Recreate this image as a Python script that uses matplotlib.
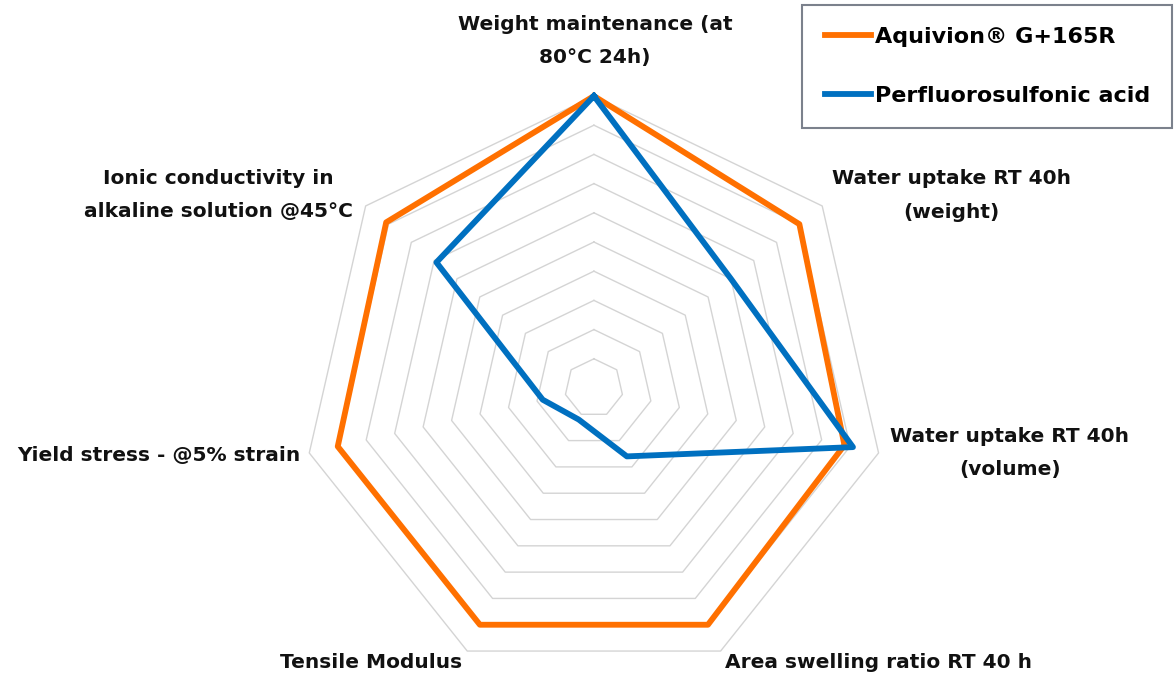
import numpy as np
import matplotlib
matplotlib.use("Agg")
import matplotlib.pyplot as plt

plt.rcParams['font.family'] = ['DejaVu Sans']
plt.rcParams['font.weight'] = 'bold'

categories = ["Weight maintenance (at\n80°C 24h)",
              "Water uptake RT 40h\n(weight)",
              "Water uptake RT 40h\n(volume)",
              "Area swelling ratio RT 40 h",
              "Tensile Modulus",
              "Yield stress - @5% strain",
              "Ionic conductivity in\nalkaline solution @45°C"]

aquivion = [1.0, 0.90, 0.88, 0.90, 0.90, 0.90, 0.91]
pfsa = [1.0, 0.60, 0.91, 0.26, 0.12, 0.18, 0.69]
series_names = ["Aquivion® G+165R", "Perfluorosulfonic acid"]
grid_levels = np.arange(0.1, 1.01, 0.1)

orange = '#FF7000'
blue = '#0070C0'

n = len(categories)
theta = np.linspace(0, 2 * np.pi, n, endpoint=False)
theta_c = np.append(theta, theta[0])

fig = plt.figure(figsize=(11.74, 6.76), dpi=100)
ax = fig.add_axes([0.2572, -0.0059, 0.4974, 0.8639], projection='polar')
ax.set_theta_zero_location('N')
ax.set_theta_direction(-1)
ax.set_ylim(0, 1)
ax.set_xticks([])
ax.set_yticks([])
ax.grid(False)
ax.spines['polar'].set_visible(False)
ax.patch.set_alpha(0)

# heptagon gridlines
for lev in grid_levels:
    ax.plot(theta_c, [lev] * (n + 1), color='#d4d4d4', lw=1.0, clip_on=False, zorder=1)

l1, = ax.plot(theta_c, aquivion + aquivion[:1], color=orange, lw=4.2, clip_on=False, zorder=3)
l2, = ax.plot(theta_c, pfsa + pfsa[:1], color=blue, lw=4.2, clip_on=False, zorder=4)

W, H = 1174, 676
def ftext(x, y, s, ha='center'):
    fig.text(x / W, 1 - y / H, s, ha=ha, va='center', fontsize=14.5, fontweight='bold',
             linespacing=2.0, color='#111111')

ftext(595, 41, categories[0])
ftext(951, 195, categories[1])
ftext(1010, 453, categories[2])
ftext(725, 663, categories[3], ha='left')
ftext(462, 663, categories[4], ha='right')
ftext(300, 455, categories[5], ha='right')
ftext(218, 195, categories[6])

leg = fig.legend([l1, l2], series_names, loc='upper right',
                 bbox_to_anchor=(1172 / W, 1 - 5 / H),
                 prop={'weight': 'bold', 'size': 16},
                 frameon=True, fancybox=False, edgecolor='#5a6270',
                 handlelength=2.1, handletextpad=0.15, labelspacing=1.75,
                 borderpad=1.0, borderaxespad=0)
leg.get_frame().set_linewidth(1.5)

fig.savefig('out.png', dpi=100, facecolor='white')
